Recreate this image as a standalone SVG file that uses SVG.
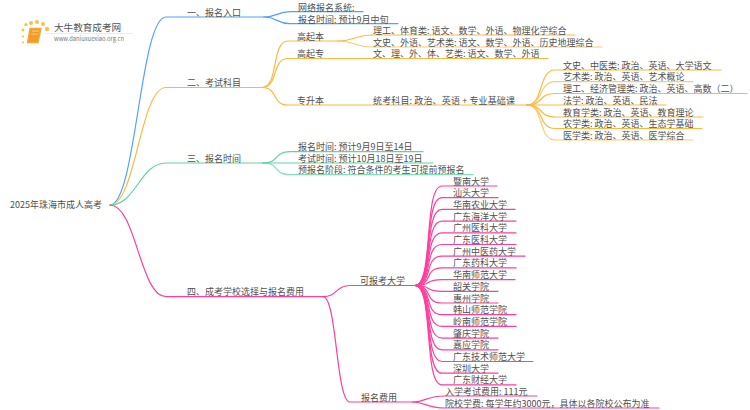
<svg xmlns="http://www.w3.org/2000/svg" width="750" height="410" viewBox="0 0 750 410">
<style>
text{font-family:"Noto Sans CJK SC","Noto Sans",sans-serif;font-size:9px;fill:#505050}
.c{fill:none;stroke-width:1.2;stroke-linecap:round}
.b{stroke:#4da3ff}.o{stroke:#fdb93f}.g{stroke:#5cd6a2}.p{stroke:#ff3f9c}
.l{stroke-opacity:.75}
</style>
<rect width="750" height="410" fill="#fff"/>
<g id="connectors">
<path class="c b" d="M110,205C136,205 140,17 166,17H264"/>
<path class="c o" d="M110,205C136,205 140,87.5 166,87.5H262"/>
<path class="c g" d="M110,205C136,205 140,163 166,163H263"/>
<path class="c p" d="M110,205C136,205 140,296.7 166,296.7H323"/>
<path class="c b" d="M264,17C277,17 277,11.7 290,11.7H363"/>
<path class="c b" d="M264,17C277,17 277,23.7 290,23.7H398"/>
<path class="c o" d="M262,87.5C279,87.5 271,41 288,41H338"/>
<path class="c o" d="M262,87.5C279,87.5 271,58.5 288,58.5H372"/>
<path class="c o" d="M262,87.5C279,87.5 271,105 288,105H527"/>
<path class="c o" d="M338,41C355,41 355,35 372,35H575"/>
<path class="c o l" d="M338,41C355,41 355,47 372,47H602"/>
<path class="c o" d="M372,58.5H548"/>
<path class="c o" d="M527,105C544,105 538,70 555,70H721"/>
<path class="c o l" d="M527,105C544,105 538,81.7 555,81.7H693"/>
<path class="c o" d="M527,105C544,105 538,93.5 555,93.5H747"/>
<path class="c o" d="M527,105C544,105 538,105 555,105H666"/>
<path class="c o" d="M527,105C544,105 538,117 555,117H703"/>
<path class="c o" d="M527,105C544,105 538,128.5 555,128.5H702"/>
<path class="c o l" d="M527,105C544,105 538,140 555,140H693"/>
<path class="c g" d="M263,163C280,163 273,151.7 290,151.7H423"/>
<path class="c g" d="M263,163H433"/>
<path class="c g l" d="M263,163C280,163 273,174.7 290,174.7H473"/>
<path class="c p" d="M323,296.7C337,296.7 336,285.5 350,285.5H415"/>
<path class="c p" d="M323,296.7C337,296.7 336,402 350,402H413"/>
<path class="c p" d="M413,402C426,402 426,396 445,396H537"/>
<path class="c p" d="M413,402C426,402 426,408 445,408H659"/>
<g class="c p">
<path d="M415,285.5C434,285.5 423,186 442,186H497"/>
<path d="M415,285.5C434,285.5 423,197.7 442,197.7H498"/>
<path d="M415,285.5C434,285.5 423,209.4 442,209.4H515"/>
<path d="M415,285.5C434,285.5 423,221.1 442,221.1H516"/>
<path d="M415,285.5C434,285.5 423,232.8 442,232.8H516"/>
<path d="M415,285.5C434,285.5 423,244.5 442,244.5H516"/>
<path d="M415,285.5C434,285.5 423,256.2 442,256.2H525"/>
<path d="M415,285.5C434,285.5 423,267.9 442,267.9H516"/>
<path d="M415,285.5C434,285.5 423,279.6 442,279.6H515"/>
<path d="M415,285.5C434,285.5 423,291.3 442,291.3H498"/>
<path d="M415,285.5C434,285.5 423,303 442,303H498"/>
<path d="M415,285.5C434,285.5 423,314.7 442,314.7H516"/>
<path d="M415,285.5C434,285.5 423,326.4 442,326.4H516"/>
<path d="M415,285.5C434,285.5 423,338.1 442,338.1H498"/>
<path d="M415,285.5C434,285.5 423,349.8 442,349.8H498"/>
<path d="M415,285.5C434,285.5 423,361.5 442,361.5H533"/>
<path d="M415,285.5C434,285.5 423,373.2 442,373.2H498"/>
<path d="M415,285.5C434,285.5 423,384.9 442,384.9H516"/>
</g>
</g>
<g id="logo">
<rect x="45" y="33" width="88" height=".8" fill="#e8e8e8"/>
<g fill="#f9c04a"><circle cx="23" cy="30" r="1.4"/><circle cx="26" cy="24.5" r="1.6"/><circle cx="31" cy="23" r="2"/><circle cx="37" cy="22" r="2"/><circle cx="43" cy="24" r="2"/><circle cx="47" cy="29" r="2.2"/><circle cx="23" cy="36.5" r="1.1"/><circle cx="23" cy="42.5" r="1"/></g>
<path d="M30,28.5H41L38,42.5H27.5Z" fill="#f59a22" stroke="#f7a83a" stroke-width="1.4" stroke-linejoin="round"/>
<path d="M32,31H39M31,34H38" stroke="#fbd48a" stroke-width="1" fill="none"/>
<text x="54" y="31" style="font-size:9.6px;fill:#555">大牛教育成考网</text>
<text x="54" y="41" style="font-size:5.8px;fill:#777">www.daniuxuexiao.org.cn</text>
</g>
<g id="root"><text x="10" y="208">2025年珠海市成人高考</text></g>
<g id="n1"><text x="187" y="16">一、报名入口</text></g>
<g id="n1a"><text x="298" y="10.5">网络报名系统:</text></g>
<g id="n1b"><text x="298" y="22.5">报名时间: 预计9月中旬</text></g>
<g id="n2"><text x="187" y="86">二、考试科目</text></g>
<g id="n2a"><text x="297" y="39.5">高起本</text></g>
<g id="n2a1"><text x="373" y="33.5">理工、体育类: 语文、数学、外语、物理化学综合</text></g>
<g id="n2a2"><text x="373" y="45.5">文史、外语、艺术类: 语文、数学、外语、历史地理综合</text></g>
<g id="n2b"><text x="297" y="57">高起专</text></g>
<g id="n2b1"><text x="373" y="57">文、理、外、体、艺类: 语文、数学、外语</text></g>
<g id="n2c"><text x="297" y="103.5">专升本</text></g>
<g id="n2c0"><text x="373" y="103.5" textLength="142">统考科目: 政治、英语 + 专业基础课</text></g>
<g id="n2c1"><text x="563" y="68.5">文史、中医类: 政治、英语、大学语文</text></g>
<g id="n2c2"><text x="563" y="80.2">艺术类: 政治、英语、艺术概论</text></g>
<g id="n2c3"><text x="563" y="92">理工、经济管理类: 政治、英语、高数（二）</text></g>
<g id="n2c4"><text x="563" y="103.5">法学: 政治、英语、民法</text></g>
<g id="n2c5"><text x="563" y="115.5">教育学类: 政治、英语、教育理论</text></g>
<g id="n2c6"><text x="563" y="127">农学类: 政治、英语、生态学基础</text></g>
<g id="n2c7"><text x="563" y="138.5">医学类: 政治、英语、医学综合</text></g>
<g id="n3"><text x="187" y="161.5">三、报名时间</text></g>
<g id="n3a"><text x="298" y="149.8">报名时间: 预计9月9日至14日</text></g>
<g id="n3b"><text x="298" y="161.5">考试时间: 预计10月18日至19日</text></g>
<g id="n3c"><text x="298" y="173.2">预报名阶段: 符合条件的考生可提前预报名</text></g>
<g id="n4"><text x="187" y="295.2">四、成考学校选择与报名费用</text></g>
<g id="n4a"><text x="360" y="284">可报考大学</text></g>
<g id="u1"><text x="453" y="184.5">暨南大学</text></g>
<g id="u2"><text x="453" y="196.2">汕头大学</text></g>
<g id="u3"><text x="453" y="207.9">华南农业大学</text></g>
<g id="u4"><text x="453" y="219.6">广东海洋大学</text></g>
<g id="u5"><text x="453" y="231.3">广州医科大学</text></g>
<g id="u6"><text x="453" y="243">广东医科大学</text></g>
<g id="u7"><text x="453" y="254.7">广州中医药大学</text></g>
<g id="u8"><text x="453" y="266.4">广东药科大学</text></g>
<g id="u9"><text x="453" y="278.1">华南师范大学</text></g>
<g id="u10"><text x="453" y="289.8">韶关学院</text></g>
<g id="u11"><text x="453" y="301.5">惠州学院</text></g>
<g id="u12"><text x="453" y="313.2">韩山师范学院</text></g>
<g id="u13"><text x="453" y="324.9">岭南师范学院</text></g>
<g id="u14"><text x="453" y="336.6">肇庆学院</text></g>
<g id="u15"><text x="453" y="348.3">嘉应学院</text></g>
<g id="u16"><text x="453" y="360">广东技术师范大学</text></g>
<g id="u17"><text x="453" y="371.7">深圳大学</text></g>
<g id="u18"><text x="453" y="383.2">广东财经大学</text></g>
<g id="n4b"><text x="361" y="400.5">报名费用</text></g>
<g id="f1"><text x="445" y="394.9">入学考试费用: 111元</text></g>
<g id="f2"><text x="445" y="406.7">院校学费: 每学年约3000元，具体以各院校公布为准</text></g>
</svg>
